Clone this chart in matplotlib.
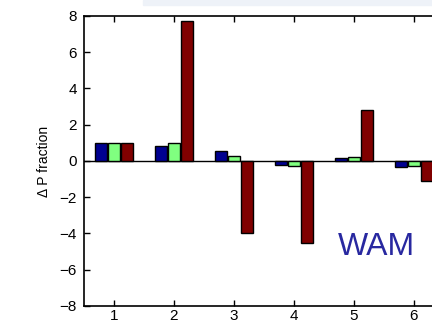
import numpy as np
import matplotlib.pyplot as plt
from matplotlib.patches import Rectangle

plt.rcParams['font.family'] = ['Liberation Sans', 'DejaVu Sans']

groups = [1, 2, 3, 4, 5, 6, 7]
blue_vals = [1.0, 0.8, 0.55, -0.2, 0.15, -0.35, 0.0]
green_vals = [1.0, 1.0, 0.3, -0.3, 0.2, -0.25, 0.0]
red_vals = [1.0, 7.75, -4.0, -4.55, 2.8, -1.1, 0.0]
tick_labels = ['1', '2', '3', '4', '5', '6', '']

colors = ['#000090', '#80ff80', '#800000']
series = [blue_vals, green_vals, red_vals]

fig = plt.figure(figsize=(4.32, 3.25), dpi=100)
# faint band at the top of the crop
fig.patches.append(Rectangle((0.33, 0.985), 0.67, 0.015, transform=fig.transFigure,
                             color='#eef2f8', zorder=0))
ax = fig.add_axes([0.1944, 0.0585, 0.972, 0.8923])

x = np.array(groups)
w = 0.2
off = 0.217
for i, (vals, c) in enumerate(zip(series, colors)):
    ax.bar(x + (i - 1) * off, vals, width=w, color=c, edgecolor='black', linewidth=1.0, zorder=3)

ax.axhline(0, color='black', linewidth=1.0, zorder=2)
ax.set_xlim(0.5, 7.5)
ax.set_ylim(-8, 8)
ax.set_xticks(groups)
ax.set_xticklabels(tick_labels)
ax.set_yticks(range(-8, 9, 2))
ax.set_yticklabels(['\u22128', '\u22126', '\u22124', '\u22122', '0', '2', '4', '6', '8'])
ax.tick_params(direction='in', top=True, right=True, labelsize=11, length=4, width=1, pad=5)
ax.tick_params(axis='x', pad=2)
for s in ax.spines.values():
    s.set_linewidth(1.2)
ax.set_ylabel('\u0394 P fraction', fontsize=10, labelpad=6)
ax.text(5.37, -4.75, 'WAM', color='#2828a0', fontsize=23, ha='center', va='center')

fig.savefig('out.png', dpi=100)
